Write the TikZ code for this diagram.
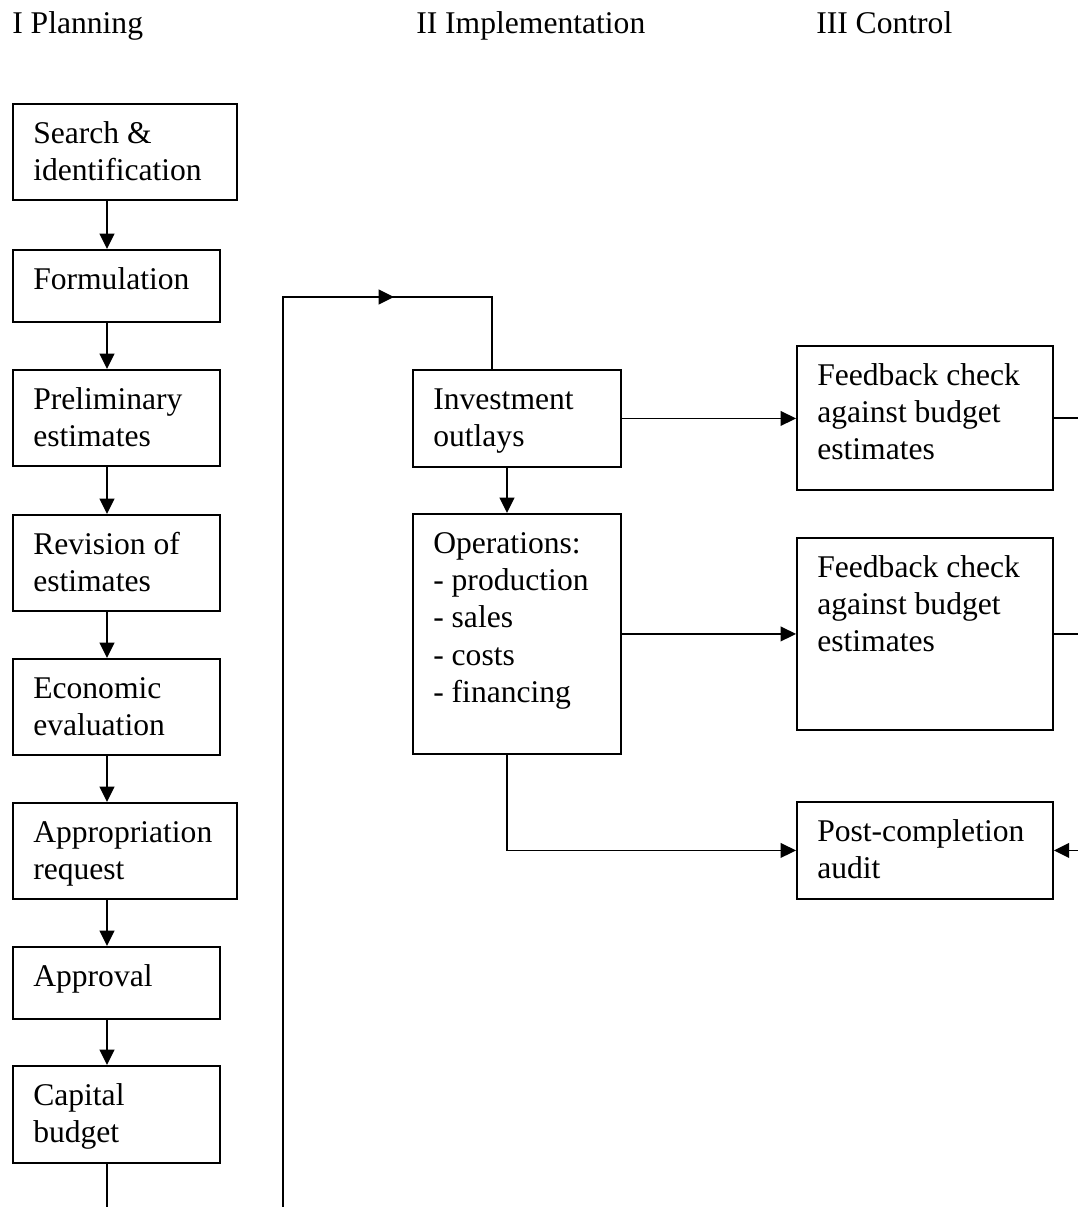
\documentclass[tikz,border=0pt]{standalone}
\usepackage{fontspec}
\setmainfont{Liberation Serif}
\usetikzlibrary{arrows.meta,calc}
% one drawing unit = one pixel of the layout grid
\newcommand{\pxu}{0.75pt}
% multi-line cell text, baseline of the first line is the node's base
\newcommand{\cell}[1]{\parbox[t]{10cm}{#1}}
\begin{document}
\begin{tikzpicture}[x=0.75pt,y=-0.75pt,
  font=\fontsize{23.7pt}{28.1pt}\selectfont,
  box/.style n args={2}{draw, line width=1.4pt, inner sep=0pt, anchor=north west,
    minimum width=#1*\pxu, minimum height=#2*\pxu},
  tx/.style={anchor=base west, inner sep=0pt},
  conn/.style={line width=1.3pt},
  arr/.style={conn, -{Triangle[length=11.5pt,width=11pt]}}]
\useasboundingbox (0,0) rectangle (1078,1207);
\clip (0,0) rectangle (1078,1207);

% column headings
\node[tx] (h1) at (12,33) {I Planning};
\node[tx] (h2) at (416,33) {II Implementation};
\node[tx] (h3) at (816,33) {III Control};

% planning column
\node[box={224}{96}] (s1) at (12,103) {};
\node[box={207}{72}] (s2) at (12,249) {};
\node[box={207}{96}] (s3) at (12,369) {};
\node[box={207}{96}] (s4) at (12,514) {};
\node[box={207}{96}] (s5) at (12,658) {};
\node[box={224}{96}] (s6) at (12,802) {};
\node[box={207}{72}] (s7) at (12,946) {};
\node[box={207}{97}] (s8) at (12,1065) {};

\node[tx] (t1) at ($(s1.north west)+(21,40)$) {\cell{Search \&\\identification}};
\node[tx] (t2) at ($(s2.north west)+(21,40)$) {\cell{Formulation}};
\node[tx] (t3) at ($(s3.north west)+(21,40)$) {\cell{Preliminary\\estimates}};
\node[tx] (t4) at ($(s4.north west)+(21,40)$) {\cell{Revision of\\estimates}};
\node[tx] (t5) at ($(s5.north west)+(21,40)$) {\cell{Economic\\evaluation}};
\node[tx] (t6) at ($(s6.north west)+(21,40)$) {\cell{Appropriation\\request}};
\node[tx] (t7) at ($(s7.north west)+(21,40)$) {\cell{Approval}};
\node[tx] (t8) at ($(s8.north west)+(21,40)$) {\cell{Capital\\budget}};

% implementation column
\node[box={208}{97}] (io) at (412,369) {};
\node[box={208}{240}] (ops) at (412,513) {};
\node[tx] (tio) at ($(io.north west)+(21,40)$) {\cell{Investment\\outlays}};
\node[tx] (tops) at ($(ops.north west)+(21,40)$) {\cell{Operations:\\- production\\- sales\\- costs\\- financing}};

% control column
\node[box={256}{144}] (f1) at (796,345) {};
\node[box={256}{192}] (f2) at (796,537) {};
\node[box={256}{97}] (pca) at (796,801) {};
\node[tx] (tf1) at ($(f1.north west)+(21,40)$) {\cell{Feedback check\\against budget\\estimates}};
\node[tx] (tf2) at ($(f2.north west)+(21,40)$) {\cell{Feedback check\\against budget\\estimates}};
\node[tx] (tpca) at ($(pca.north west)+(21,40)$) {\cell{Post-completion\\audit}};

% guide positions for the connectors
\coordinate (ax) at (107,0);
\coordinate (mx) at (507,0);
\coordinate (lx) at (492,0);
\coordinate (lp) at (283,297);
\coordinate (lb) at (283,1240);
\coordinate (lt) at (394,297);
\coordinate (rx) at (1095,0);

% planning sequence
\foreach \a/\b in {s1/s2,s2/s3,s3/s4,s4/s5,s5/s6,s6/s7,s7/s8}
  \draw[arr] (\a.south -| ax) -- (\b.north -| ax);

% capital budget feeds back into implementation
\draw[conn] (s8.south -| ax) -- (ax |- lb) -- (lb) -- (lp) -| (io.north -| lx);
\draw[arr] (lp) -- (lt);

% implementation to control
\draw[arr] (io.south -| mx) -- (ops.north -| mx);
\draw[arr] (io.east) -- (io.east -| f1.west);
\draw[arr] (ops.east) -- (ops.east -| f2.west);
\draw[arr] (ops.south -| mx) |- (pca.west);

% feedback checks lead on to the audit
\draw[arr] (f1.east) -| (rx |- pca.east) -- (pca.east);
\draw[conn] (f2.east) -- (f2.east -| rx);
\end{tikzpicture}
\end{document}
